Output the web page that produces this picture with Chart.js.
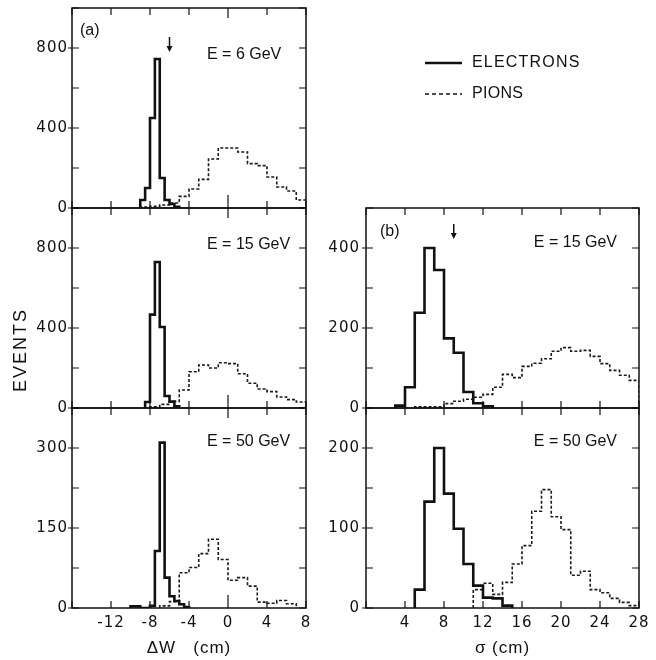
<!DOCTYPE html>
<html lang="en">
<head>
<meta charset="UTF-8">
<title>Electron / pion shower width</title>
<script src="https://cdn.jsdelivr.net/npm/chart.js"></script>
<style>
  body { margin: 0; background: #fff; }
  #wrap { position: relative; width: 656px; height: 660px; }
  #wrap canvas { position: absolute; left: 0; top: 0; }
</style>
</head>
<body>
<div id="wrap">
  <canvas id="a6" width="656" height="660"></canvas>
  <canvas id="a15" width="656" height="660"></canvas>
  <canvas id="a50" width="656" height="660"></canvas>
  <canvas id="b15" width="656" height="660"></canvas>
  <canvas id="b50" width="656" height="660"></canvas>
</div>
<script>
// ---- data ----
// (a) lateral displacement dW in cm; electrons in 0.5 cm bins, pions in 1 cm bins
const dwElec6Low = -9,   dwElec6  = [40, 100, 450, 745, 150, 40, 20, 6];
const dwPion6Low = -9,   dwPion6  = [5, 8, 15, 25, 58, 95, 143, 245, 300, 300, 280, 222, 212, 155, 105, 85, 40];
const dwElec15Low = -8.5, dwElec15 = [30, 467, 730, 405, 60, 32, 8];
const dwPion15Low = -8,  dwPion15 = [6, 18, 33, 90, 181, 215, 200, 226, 222, 171, 124, 95, 82, 55, 42, 30];
const dwElec50Low = -10, dwElec50 = [3, 3, 0, 0, 4, 107, 310, 57, 22, 13, 7, 2];
const dwPion50Low = -7,  dwPion50 = [4, 12, 66, 76, 102, 129, 91, 52, 57, 41, 11, 9, 14, 8];
const dwElecBin = 0.5, dwPionBin = 1;

// (b) shower width sigma in cm, 1 cm bins
const sgElec15Low = 3,  sgElec15 = [6, 52, 238, 400, 345, 174, 138, 40, 12, 4];
const sgPion15Low = 5,  sgPion15 = [3, 3, 3, 11, 17, 22, 27, 34, 52, 84, 76, 104, 112, 123, 142, 151, 142, 144, 129, 111, 94, 82, 69];
const sgElec50Low = 5,  sgElec50 = [23, 133, 200, 143, 99, 55, 28, 13, 12, 3];
const sgPion50Low = 11, sgPion50 = [23, 31, 17, 32, 55, 78, 121, 148, 114, 98, 41, 46, 23, 19, 12, 7, 3];
const sgBin = 1;

// cuts marked by arrows
const dwCut = -6, sgCut = 9;

// axis ranges and tick labels
const dwRange = [-16, 8], dwTickLabels = [-12, -8, -4, 0, 4, 8];
const sgRange = [0, 28],  sgTickLabels = [4, 8, 12, 16, 20, 24, 28];
const yLabels1000 = [0, 400, 800], yLabels375 = [0, 150, 300];
const yLabels500 = [0, 200, 400],  yLabels250 = [0, 100, 200];
const energyLabels = ['E = 6 GeV', 'E = 15 GeV', 'E = 50 GeV'];

// ---- helpers ----
Chart.defaults.font.family = 'DejaVu Sans';
Chart.defaults.color = '#111';

function steps(lo, w, counts) {
  const pts = [{x: lo, y: 0}];
  counts.forEach((c, i) => pts.push({x: lo + i * w, y: c}));
  pts.push({x: lo + counts.length * w, y: 0});
  return pts;
}
function elecSet(pts) {
  return {label: 'ELECTRONS', data: pts, borderColor: '#111', borderWidth: 2.6,
          stepped: true, pointRadius: 0, fill: false, order: 0};
}
function pionSet(pts) {
  return {label: 'PIONS', data: pts, borderColor: '#1a1a1a', borderWidth: 1.6, borderDash: [3, 2],
          stepped: true, pointRadius: 0, fill: false, order: 1};
}

const frame = {
  id: 'frame',
  beforeDraw(chart) { chart.ctx.letterSpacing = '1px'; },
  afterDatasetsDraw(chart, args, o) {
    const {ctx, chartArea: a, scales: {x, y}} = chart;
    ctx.save();
    ctx.letterSpacing = '0px';
    ctx.strokeStyle = '#111';
    ctx.lineWidth = 1.5;
    ctx.strokeRect(a.left, a.top, a.width, a.height);
    ctx.lineWidth = 1.2;
    ctx.beginPath();
    x.ticks.forEach(t => {
      const px = x.getPixelForValue(t.value);
      const z = o.zeroLong && t.value === 0;
      ctx.moveTo(px, a.bottom); ctx.lineTo(px, a.bottom - (z ? 13 : 7));
      ctx.moveTo(px, a.top); ctx.lineTo(px, a.top + (z ? 10 : 7));
    });
    y.ticks.forEach(t => {
      const py = y.getPixelForValue(t.value);
      ctx.moveTo(a.left - (t.label ? 4 : 0), py); ctx.lineTo(a.left + 7, py);
      ctx.moveTo(a.right, py); ctx.lineTo(a.right - 7, py);
    });
    ctx.stroke();

    // cut arrow
    if (o.arrow) {
      const px = x.getPixelForValue(o.arrow.value);
      ctx.lineWidth = 1.5;
      ctx.beginPath();
      ctx.moveTo(px, o.arrow.y0); ctx.lineTo(px, o.arrow.y1 - 4);
      ctx.stroke();
      ctx.beginPath();
      ctx.moveTo(px - 3, o.arrow.y1 - 6); ctx.lineTo(px + 3, o.arrow.y1 - 6); ctx.lineTo(px, o.arrow.y1);
      ctx.closePath(); ctx.fillStyle = '#111'; ctx.fill();
    }

    // panel texts
    ctx.fillStyle = '#111';
    ctx.textBaseline = 'middle';
    (o.notes || []).forEach(n => {
      ctx.save();
      ctx.font = (n.size || 16) + 'px "Liberation Sans"';
      ctx.letterSpacing = (n.spacing || 0) + 'px';
      ctx.textAlign = n.align || 'left';
      ctx.translate(n.x, n.y);
      if (n.rotate) ctx.rotate(n.rotate);
      ctx.fillText(n.text, 0, 0);
      ctx.restore();
    });

    // legend from dataset styles
    if (o.legend) {
      chart.data.datasets.forEach((ds, i) => {
        const ly = o.legend.y + i * o.legend.gap;
        ctx.save();
        ctx.lineWidth = ds.borderWidth;
        ctx.setLineDash(i === 0 ? [] : [4, 3]);
        ctx.beginPath();
        ctx.moveTo(o.legend.x, ly); ctx.lineTo(o.legend.x + 37, ly);
        ctx.stroke();
        ctx.font = '16px "Liberation Sans"';
        ctx.letterSpacing = i === 0 ? '1.2px' : '0.3px';
        ctx.textAlign = 'left';
        ctx.fillText(ds.label, o.legend.x + 47, ly);
        ctx.restore();
      });
    }
    ctx.restore();
  }
};

function panel(id, box, xr, xLabels, xTitle, yMax, yStep, yLabels, datasets, frameOpts) {
  const axisW = box.left - box.padLeft;
  const axisH = xTitle ? 660 - box.bottom : 0;
  new Chart(document.getElementById(id), {
    type: 'line',
    data: {datasets},
    options: {
      responsive: false, animation: false, devicePixelRatio: 1,
      layout: {padding: {left: box.padLeft, top: box.top, right: 656 - box.right,
                         bottom: 660 - box.bottom - axisH}},
      plugins: {legend: {display: false}, tooltip: {enabled: false}, frame: frameOpts},
      scales: {
        x: {
          type: 'linear', min: xr[0], max: xr[1],
          grid: {display: false, drawTicks: false}, border: {display: false},
          ticks: {stepSize: 4, autoSkip: false, maxRotation: 0, padding: 6,
                  display: !!xTitle, font: {size: 15},
                  callback: v => xLabels.includes(v) ? String(v) : ''},
          title: {display: !!xTitle, text: xTitle || '', padding: {top: 0, bottom: 1},
                  font: {family: 'Liberation Sans', size: 17}},
          afterFit(s) { s.height = axisH; s.paddingLeft = 0; s.paddingRight = 0; }
        },
        y: {
          min: 0, max: yMax,
          grid: {display: false, drawTicks: false}, border: {display: false},
          ticks: {stepSize: yStep, autoSkip: false, padding: box.tickPad, font: {size: 15},
                  callback: v => yLabels.includes(v) ? String(v) : ''},
          afterFit(s) { s.width = axisW; s.paddingTop = 0; s.paddingBottom = 0; }
        }
      }
    },
    plugins: [frame]
  });
}

const colA = {left: 72, right: 306, padLeft: 0, tickPad: 4};
const colB = {left: 366, right: 639, padLeft: 306, tickPad: 6};

panel('a6', {...colA, top: 8, bottom: 208}, dwRange, dwTickLabels, null, 1000, 200, yLabels1000,
  [elecSet(steps(dwElec6Low, dwElecBin, dwElec6)), pionSet(steps(dwPion6Low, dwPionBin, dwPion6))],
  {zeroLong: true, arrow: {value: dwCut, y0: 37, y1: 52},
   notes: [{text: '(a)', x: 80, y: 31}, {text: energyLabels[0], x: 207, y: 55}]});

panel('a15', {...colA, top: 208, bottom: 408}, dwRange, dwTickLabels, null, 1000, 200, yLabels1000,
  [elecSet(steps(dwElec15Low, dwElecBin, dwElec15)), pionSet(steps(dwPion15Low, dwPionBin, dwPion15))],
  {zeroLong: true,
   notes: [{text: energyLabels[1], x: 207, y: 245},
           {text: 'EVENTS', x: 21, y: 350, size: 18, spacing: 2, align: 'center', rotate: -Math.PI / 2}]});

panel('a50', {...colA, top: 408, bottom: 608}, dwRange, dwTickLabels, 'ΔW   (cm)', 375, 75, yLabels375,
  [elecSet(steps(dwElec50Low, dwElecBin, dwElec50)), pionSet(steps(dwPion50Low, dwPionBin, dwPion50))],
  {zeroLong: true, notes: [{text: energyLabels[2], x: 207, y: 442}]});

panel('b15', {...colB, top: 208, bottom: 408}, sgRange, sgTickLabels, null, 500, 100, yLabels500,
  [elecSet(steps(sgElec15Low, sgBin, sgElec15)), pionSet(steps(sgPion15Low, sgBin, sgPion15))],
  {arrow: {value: sgCut, y0: 224, y1: 239},
   legend: {x: 425, y: 63, gap: 31},
   notes: [{text: '(b)', x: 380, y: 232}, {text: energyLabels[1], x: 617, y: 243, align: 'right'}]});

panel('b50', {...colB, top: 408, bottom: 608}, sgRange, sgTickLabels, 'σ (cm)', 250, 50, yLabels250,
  [elecSet(steps(sgElec50Low, sgBin, sgElec50)), pionSet(steps(sgPion50Low, sgBin, sgPion50))],
  {notes: [{text: energyLabels[2], x: 617, y: 442, align: 'right'}]});
</script>
</body>
</html>
